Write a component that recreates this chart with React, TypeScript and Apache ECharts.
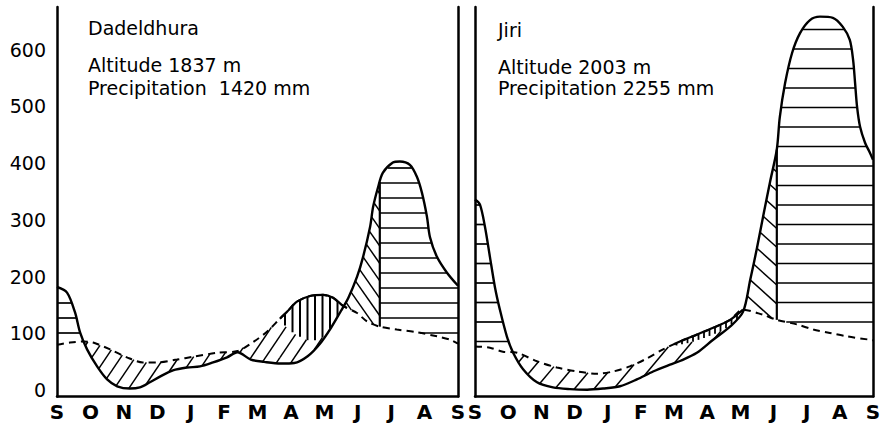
import React, { useEffect, useRef } from 'react';
import * as echarts from 'echarts';

// ---------- data (months since start of September, mm) ----------
const MONTHS = ['S', 'O', 'N', 'D', 'J', 'F', 'M', 'A', 'M', 'J', 'J', 'A', 'S'];
const Y_TICKS = [0, 100, 200, 300, 400, 500, 600];

const dadeldhuraName = 'Dadeldhura';
const dadeldhuraAltitude = 1837;
const dadeldhuraAnnual = 1420;

const jiriName = 'Jiri';
const jiriAltitude = 2003;
const jiriAnnual = 2255;

// precipitation curve (solid)
const dadeldhuraPrecip: number[][] = [
  [0, 182], [0.3, 172], [0.54, 137], [0.69, 102], [0.9, 72], [1.2, 42], [1.5, 19], [1.8, 7],
  [2.18, 3], [2.48, 5], [2.78, 14], [3.08, 24], [3.47, 35], [3.89, 40], [4.28, 42], [4.67, 49],
  [5.09, 58], [5.4, 67], [5.8, 54], [6.2, 50], [6.7, 47], [7.1, 48], [7.5, 60], [7.87, 82],
  [8.2, 110], [8.5, 140], [8.72, 163], [8.98, 200], [9.16, 235], [9.37, 288], [9.46, 323],
  [9.61, 358], [9.75, 383], [10.05, 401], [10.26, 403], [10.56, 397], [10.77, 376], [10.92, 348],
  [11.07, 306], [11.16, 270], [11.37, 235], [11.67, 207], [12, 184],
];
// potential evapotranspiration curve (dashed)
const dadeldhuraPE: number[][] = [
  [0, 80], [0.39, 84], [0.78, 86], [1.08, 84], [1.59, 72], [2.09, 58], [2.57, 49], [2.99, 49],
  [3.59, 54], [4.07, 59], [4.79, 66], [5.4, 69], [5.9, 86], [6.3, 104], [6.67, 126], [6.88, 138],
  [7.18, 156], [7.57, 166], [7.96, 168], [8.26, 163], [8.55, 149], [8.98, 136], [9.28, 121],
  [9.66, 112], [10.17, 107], [10.77, 102], [11.37, 95], [11.76, 89], [12, 82],
];
// dividing curve inside the spring lens
const dadeldhuraAE: number[][] = [
  [6.67, 126], [6.9, 108], [7.2, 96], [7.5, 88], [7.8, 88], [8.05, 97], [8.5, 140], [8.65, 157],
];

const jiriPrecip: number[][] = [
  [0, 336], [0.15, 327], [0.3, 288], [0.45, 235], [0.6, 182], [0.75, 142], [0.96, 95], [1.15, 66],
  [1.45, 37], [1.87, 14], [2.35, 5], [2.86, 2], [3.38, 1], [3.86, 3], [4.37, 7], [4.88, 19],
  [5.37, 33], [5.88, 45], [6.2, 52], [6.69, 66], [7.18, 89], [7.69, 112], [8.08, 138], [8.3, 195],
  [8.5, 250], [8.7, 310], [8.9, 368], [9.1, 424], [9.19, 481], [9.35, 541], [9.56, 594], [9.8, 629],
  [10.1, 652], [10.4, 658], [10.79, 656], [11.09, 640], [11.3, 617], [11.4, 582], [11.46, 541],
  [11.52, 499], [11.61, 464], [11.76, 436], [11.91, 418], [12, 406],
];
const jiriPE: number[][] = [
  [0, 77], [0.45, 75], [0.84, 68], [1.27, 66], [1.87, 51], [2.47, 40], [3.08, 33], [3.68, 29],
  [4.16, 33], [4.67, 42], [5.15, 55], [5.67, 72], [6.18, 86], [6.69, 98], [7.18, 110], [7.69, 124],
  [8.08, 142], [8.68, 133], [9.1, 124], [9.7, 116], [10.2, 107], [10.7, 101], [11.2, 95], [11.9, 89],
  [12, 88],
];
const jiriAE: number[][] = [
  [6.0, 78], [6.5, 84], [7.0, 94], [7.5, 106], [7.9, 124], [8.08, 140],
];

type Zone = { kind: 'h' | 'f' | 'b' | 'v'; from: number; to: number; top: string; bottom: string; edge?: boolean };

const dadeldhuraZones: Zone[] = [
  { kind: 'h', from: 0, to: 0.8, top: 'precip', bottom: 'pe' },
  { kind: 'f', from: 0.7, to: 6.67, top: 'pe', bottom: 'precip' },
  { kind: 'f', from: 6.67, to: 8.65, top: 'ae', bottom: 'precip' },
  { kind: 'v', from: 6.67, to: 8.62, top: 'pe', bottom: 'ae' },
  { kind: 'b', from: 8.6, to: 9.66, top: 'precip', bottom: 'pe' },
  { kind: 'h', from: 9.66, to: 12, top: 'precip', bottom: 'pe', edge: true },
];
const jiriZones: Zone[] = [
  { kind: 'h', from: 0, to: 1.2, top: 'precip', bottom: 'pe' },
  { kind: 'f', from: 1.05, to: 6.0, top: 'pe', bottom: 'precip' },
  { kind: 'f', from: 6.0, to: 8.08, top: 'ae', bottom: 'precip' },
  { kind: 'v', from: 6.0, to: 8.08, top: 'pe', bottom: 'ae' },
  { kind: 'b', from: 8.05, to: 9.1, top: 'precip', bottom: 'pe' },
  { kind: 'h', from: 9.1, to: 12, top: 'precip', bottom: 'pe', edge: true },
];

// ---------- helpers ----------
function interp(curve: number[][], m: number): number {
  if (m <= curve[0][0]) return curve[0][1];
  const last = curve[curve.length - 1];
  if (m >= last[0]) return last[1];
  for (let i = 0; i < curve.length - 1; i++) {
    const a = curve[i], b = curve[i + 1];
    if (m >= a[0] && m <= b[0]) {
      const t = (m - a[0]) / (b[0] - a[0] || 1);
      return a[1] + t * (b[1] - a[1]);
    }
  }
  return last[1];
}

function subset(curve: number[][], lo: number, hi: number): number[][] {
  const out: number[][] = [[lo, interp(curve, lo)]];
  curve.forEach((p) => { if (p[0] > lo && p[0] < hi) out.push(p); });
  out.push([hi, interp(curve, hi)]);
  return out;
}

function hatch(poly: number[][], angleDeg: number, spacing: number, phase: number) {
  const a = (angleDeg * Math.PI) / 180;
  const d = [Math.cos(a), -Math.sin(a)];
  const n = [-d[1], d[0]];
  const s = poly.map((p) => p[0] * n[0] + p[1] * n[1]);
  const smin = Math.min(...s), smax = Math.max(...s);
  const segs: number[][][] = [];
  for (let k = Math.ceil((smin - phase) / spacing); k * spacing + phase <= smax; k++) {
    const lv = k * spacing + phase;
    const hits: number[][] = [];
    for (let i = 0; i < poly.length; i++) {
      const j = (i + 1) % poly.length;
      const si = s[i], sj = s[j];
      if ((si <= lv && sj > lv) || (sj <= lv && si > lv)) {
        const t = (lv - si) / (sj - si);
        const x = poly[i][0] + t * (poly[j][0] - poly[i][0]);
        const y = poly[i][1] + t * (poly[j][1] - poly[i][1]);
        hits.push([x, y, x * d[0] + y * d[1]]);
      }
    }
    hits.sort((A, B) => A[2] - B[2]);
    for (let h = 0; h + 1 < hits.length; h += 2) {
      const p = hits[h], q = hits[h + 1];
      if (Math.hypot(q[0] - p[0], q[1] - p[1]) > 1.2) segs.push([p, q]);
    }
  }
  return segs;
}

type HatchStyle = { angle: number; spacing: number; phase: number; width: number };

const FONT = 'DejaVu Sans';

export default function App() {
  const ref = useRef<HTMLDivElement>(null);

  useEffect(() => {
    if (!ref.current) return;
    const chart = echarts.init(ref.current, undefined, { renderer: 'svg' });

    const panels = [
      {
        curves: { precip: dadeldhuraPrecip, pe: dadeldhuraPE, ae: dadeldhuraAE } as Record<string, number[][]>,
        zones: dadeldhuraZones,
        hatch: {
          h: { angle: 0, spacing: 15, phase: 3, width: 1.7 },
          f: { angle: 56, spacing: 12, phase: 0, width: 1.5 },
          b: { angle: -55, spacing: 10, phase: 0, width: 1.5 },
          v: { angle: 90, spacing: 7.5, phase: 0, width: 2 },
        } as Record<string, HatchStyle>,
      },
      {
        curves: { precip: jiriPrecip, pe: jiriPE, ae: jiriAE } as Record<string, number[][]>,
        zones: jiriZones,
        hatch: {
          h: { angle: 0, spacing: 19.5, phase: 10, width: 1.7 },
          f: { angle: 50, spacing: 15, phase: 0, width: 1.5 },
          b: { angle: -42, spacing: 14, phase: 0, width: 1.5 },
          v: { angle: 90, spacing: 5.5, phase: 0, width: 1.8 },
        } as Record<string, HatchStyle>,
      },
    ];

    const series: any[] = [];
    panels.forEach((panel, pi) => {
      const xAxisIndex = pi;
      const yAxisIndex = pi * 2;
      series.push({
        type: 'custom',
        coordinateSystem: 'cartesian2d',
        xAxisIndex,
        yAxisIndex,
        silent: true,
        z: 1,
        data: panel.zones.map((z, i) => [z.from, 0, i]),
        encode: { x: 0, y: 1 },
        renderItem: (params: any, api: any) => {
          const z = panel.zones[params.dataIndex];
          const topC = panel.curves[z.top];
          const botC = panel.curves[z.bottom];
          const tops: number[][] = [];
          const bots: number[][] = [];
          const n = Math.max(2, Math.ceil((z.to - z.from) / 0.02));
          for (let i = 0; i <= n; i++) {
            const m = z.from + ((z.to - z.from) * i) / n;
            const t = interp(topC, m);
            const b = Math.min(interp(botC, m), t);
            tops.push(api.coord([m, t]));
            bots.push(api.coord([m, b]));
          }
          const poly = tops.concat(bots.slice().reverse());
          const st = panel.hatch[z.kind];
          const children: any[] = hatch(poly, st.angle, st.spacing, st.phase).map(([p, q]) => ({
            type: 'line',
            shape: { x1: p[0], y1: p[1], x2: q[0], y2: q[1] },
            style: { stroke: '#000', lineWidth: st.width },
          }));
          if (z.edge) {
            children.push({
              type: 'line',
              shape: { x1: tops[0][0], y1: tops[0][1], x2: bots[0][0], y2: bots[0][1] },
              style: { stroke: '#000', lineWidth: 2.2 },
            });
          }
          return { type: 'group', children };
        },
      });
      const aeC = panel.curves.ae;
      series.push({
        type: 'line',
        xAxisIndex,
        yAxisIndex,
        data: panel.curves.pe,
        smooth: 0.3,
        symbol: 'none',
        silent: true,
        z: 3,
        lineStyle: { color: '#000', width: 2, type: [7, 5] },
      });
      series.push({
        type: 'line',
        xAxisIndex,
        yAxisIndex,
        data: subset(panel.curves.pe, aeC[0][0], aeC[aeC.length - 1][0]),
        smooth: 0.3,
        symbol: 'none',
        silent: true,
        z: 3,
        lineStyle: { color: '#000', width: 2.2 },
      });
      series.push({
        type: 'line',
        xAxisIndex,
        yAxisIndex,
        data: panel.curves.precip,
        smooth: 0.3,
        symbol: 'none',
        silent: true,
        z: 4,
        lineStyle: { color: '#000', width: 2.4 },
      });
    });

    const axisLine = { show: true, onZero: false, lineStyle: { color: '#000', width: 2.5 } };
    const makeX = (gridIndex: number) => ({
      type: 'value',
      gridIndex,
      min: 0,
      max: 12,
      interval: 1,
      axisLine,
      axisTick: { show: false },
      splitLine: { show: false },
      axisLabel: {
        formatter: (v: number) => MONTHS[Math.round(v)] ?? '',
        color: '#000',
        fontSize: 20,
        fontWeight: 'bold',
        fontFamily: FONT,
        margin: 5,
      },
    });
    const makeY = (gridIndex: number, position: string, labels: boolean) => ({
      type: 'value',
      gridIndex,
      position,
      min: -11,
      max: 675,
      axisLine,
      axisTick: { show: false },
      splitLine: { show: false },
      axisLabel: labels
        ? { customValues: Y_TICKS, color: '#000', fontSize: 19, fontFamily: FONT, margin: 11 }
        : { show: false },
    });

    const textStyle = (text: string) => ({
      text,
      fill: '#000',
      fontSize: 19,
      fontFamily: FONT,
      verticalAlign: 'middle',
      textVerticalAlign: 'middle',
    });

    chart.setOption({
      animation: false,
      backgroundColor: '#fff',
      grid: [
        { left: 57, top: 7, width: 401, height: 389.5 },
        { left: 475, top: 7, width: 398, height: 389.5 },
      ],
      xAxis: [makeX(0), makeX(1)],
      yAxis: [makeY(0, 'left', true), makeY(0, 'right', false), makeY(1, 'left', false), makeY(1, 'right', false)],
      series,
      graphic: [
        { type: 'text', x: 88, y: 28, style: textStyle(dadeldhuraName) },
        { type: 'text', x: 88, y: 65, style: textStyle(`Altitude ${dadeldhuraAltitude} m`) },
        { type: 'text', x: 88, y: 88, style: textStyle(`Precipitation  ${dadeldhuraAnnual} mm`) },
        { type: 'text', x: 498, y: 30, style: textStyle(jiriName) },
        { type: 'text', x: 498, y: 67, style: textStyle(`Altitude ${jiriAltitude} m`) },
        { type: 'text', x: 498, y: 88, style: textStyle(`Precipitation ${jiriAnnual} mm`) },
      ],
    });

    return () => chart.dispose();
  }, []);

  return <div ref={ref} style={{ position: 'fixed', left: 0, top: 0, width: 888, height: 434, background: '#fff' }} />;
}
